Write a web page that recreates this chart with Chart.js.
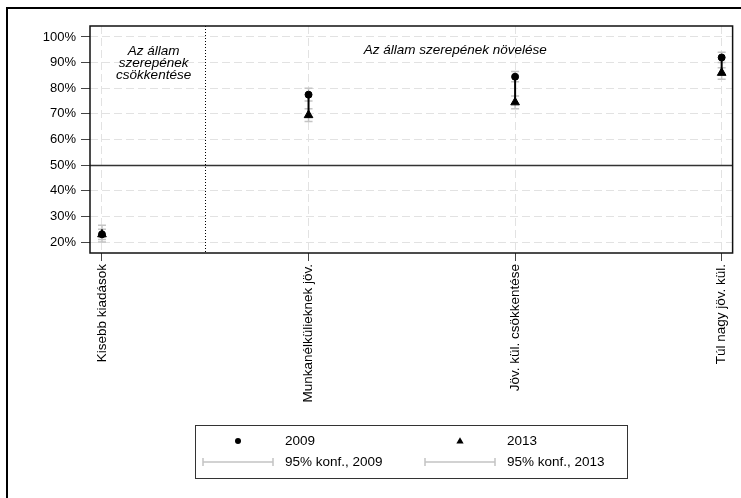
<!DOCTYPE html>
<html><head><meta charset="utf-8">
<script src="https://cdn.jsdelivr.net/npm/chart.js@4.4.1/dist/chart.umd.min.js"></script>
<style>html,body{margin:0;padding:0;background:#fff;} canvas{display:block;}</style>
</head><body>
<canvas id="c" width="741" height="498"></canvas>
<script>
const categories = ['Kisebb kiadások', 'Munkanélkülieknek jöv.', 'Jöv. kül. csökkentése', 'Túl nagy jöv. kül.'];
const values2009 = [23, 77.5, 84.5, 92];
const values2013 = [23, 69.5, 74.5, 86];
const ciLow2009  = [21, 75, 82.5, 90];
const ciHigh2009 = [25, 80, 86.5, 94];
const ciLow2013  = [20, 67, 72, 83.5];
const ciHigh2013 = [26.5, 72, 77, 88];
const yTicks = [20, 30, 40, 50, 60, 70, 80, 90, 100];
const seriesNames = ['2009', '2013'];
const ciNames = ['95% konf., 2009', '95% konf., 2013'];
const groupLeft = ['Az állam', 'szerepének', 'csökkentése'];
const groupRight = ['Az állam szerepének növelése'];
const referenceLine = 50;
const dividerAt = 0.5;

const FONT = '"Liberation Sans", Arial, sans-serif';
const CI_COLOR = '#c4c4c4';

function drawTri(ctx, x, y, r) {
  ctx.beginPath();
  ctx.moveTo(x, y - r);
  ctx.lineTo(x + r * 0.866, y + r * 0.5);
  ctx.lineTo(x - r * 0.866, y + r * 0.5);
  ctx.closePath();
  ctx.fill();
}

const overlay = {
  id: 'overlay',
  beforeDatasetsDraw(chart) {
    const { ctx, chartArea: a, scales: { x, y } } = chart;
    ctx.save();
    const y50 = Math.round(y.getPixelForValue(referenceLine)) + 0.5;
    ctx.strokeStyle = '#333'; ctx.lineWidth = 1.5;
    ctx.beginPath(); ctx.moveTo(a.left, y50); ctx.lineTo(a.right, y50); ctx.stroke();
    const xd = Math.round(x.getPixelForValue(dividerAt)) + 0.5;
    ctx.strokeStyle = '#000'; ctx.lineWidth = 1; ctx.setLineDash([1, 2]);
    ctx.beginPath(); ctx.moveTo(xd, a.top); ctx.lineTo(xd, a.bottom); ctx.stroke();
    ctx.setLineDash([]);
    ctx.strokeStyle = CI_COLOR; ctx.lineWidth = 1.5;
    const ci = (i, lo, hi) => {
      const px = x.getPixelForValue(i);
      const p1 = y.getPixelForValue(lo), p2 = y.getPixelForValue(hi);
      ctx.beginPath();
      ctx.moveTo(px, p1); ctx.lineTo(px, p2);
      ctx.moveTo(px - 4, p1); ctx.lineTo(px + 4, p1);
      ctx.moveTo(px - 4, p2); ctx.lineTo(px + 4, p2);
      ctx.stroke();
    };
    categories.forEach((c, i) => { ci(i, ciLow2009[i], ciHigh2009[i]); ci(i, ciLow2013[i], ciHigh2013[i]); });
    ctx.strokeStyle = '#000'; ctx.lineWidth = 2;
    categories.forEach((c, i) => {
      const px = x.getPixelForValue(i);
      ctx.beginPath();
      ctx.moveTo(px, y.getPixelForValue(values2009[i]));
      ctx.lineTo(px, y.getPixelForValue(values2013[i]));
      ctx.stroke();
    });
    ctx.restore();
  },
  afterDraw(chart) {
    const { ctx, chartArea: a, scales: { x } } = chart;
    ctx.save();
    ctx.strokeStyle = '#111'; ctx.lineWidth = 1.5;
    ctx.strokeRect(a.left, a.top, a.right - a.left, a.bottom - a.top);
    ctx.strokeStyle = '#000'; ctx.lineWidth = 2;
    ctx.beginPath(); ctx.moveTo(7, 498); ctx.lineTo(7, 8); ctx.lineTo(741, 8); ctx.stroke();
    ctx.fillStyle = '#000';
    ctx.font = 'italic 13.5px ' + FONT;
    ctx.textAlign = 'center'; ctx.textBaseline = 'middle';
    const xl = (a.left + x.getPixelForValue(dividerAt)) / 2 + 6;
    groupLeft.forEach((t, k) => ctx.fillText(t, xl, 51.5 + k * 12));
    const xr = x.getPixelForValue(1.71);
    groupRight.forEach((t, k) => ctx.fillText(t, xr, 50.5 + k * 12));
    ctx.strokeStyle = '#333'; ctx.lineWidth = 1;
    ctx.strokeRect(195.5, 425.5, 432, 53);
    ctx.fillStyle = '#000';
    ctx.beginPath(); ctx.arc(238, 441, 3, 0, Math.PI * 2); ctx.fill();
    drawTri(ctx, 460, 441.5, 4.2);
    ctx.font = '13.5px ' + FONT; ctx.textAlign = 'left';
    ctx.fillText(seriesNames[0], 285, 441);
    ctx.fillText(seriesNames[1], 507, 441);
    ctx.fillText(ciNames[0], 285, 462);
    ctx.fillText(ciNames[1], 507, 462);
    ctx.strokeStyle = CI_COLOR; ctx.lineWidth = 1.5;
    [[203, 273], [425, 495]].forEach(([x1, x2]) => {
      ctx.beginPath();
      ctx.moveTo(x1, 462); ctx.lineTo(x2, 462);
      ctx.moveTo(x1, 458); ctx.lineTo(x1, 466);
      ctx.moveTo(x2, 458); ctx.lineTo(x2, 466);
      ctx.stroke();
    });
    ctx.restore();
  }
};

const pts = arr => arr.map((v, i) => ({ x: i, y: v }));

new Chart(document.getElementById('c'), {
  type: 'scatter',
  data: {
    datasets: [
      { label: seriesNames[0], data: pts(values2009), pointStyle: 'circle', pointRadius: 3.5,
        backgroundColor: '#000', borderColor: '#000', borderWidth: 1 },
      { label: seriesNames[1], data: pts(values2013), pointStyle: 'triangle', pointRadius: 5,
        backgroundColor: '#000', borderColor: '#000', borderWidth: 1 }
    ]
  },
  options: {
    responsive: false, animation: false, devicePixelRatio: 1, events: [],
    layout: { padding: { left: 0, right: 8, top: 26, bottom: 0 } },
    plugins: { legend: { display: false }, tooltip: { enabled: false } },
    scales: {
      x: {
        type: 'linear', min: -0.058, max: 3.053,
        afterBuildTicks: s => { s.ticks = categories.map((c, i) => ({ value: i })); },
        afterFit: s => { s.height = 245; },
        grid: { color: '#e2e2e2', lineWidth: 1, tickLength: 8, tickColor: '#444', tickBorderDash: [], tickWidth: 1 },
        border: { display: false, dash: [8, 4] },
        ticks: { autoSkip: false, minRotation: 90, maxRotation: 90, padding: 3, color: '#000',
          font: { family: FONT, size: 13.5 },
          callback: v => categories[v] }
      },
      y: {
        type: 'linear', min: 15.71, max: 104.29,
        afterBuildTicks: s => { s.ticks = yTicks.map(v => ({ value: v })); },
        afterFit: s => { s.width = 90; },
        grid: { color: '#e2e2e2', lineWidth: 1, tickLength: 9, tickColor: '#444', tickBorderDash: [], tickWidth: 1 },
        border: { display: false, dash: [8, 4] },
        ticks: { padding: 5, color: '#000', font: { family: FONT, size: 13 }, callback: v => v + '%' }
      }
    }
  },
  plugins: [overlay]
});
</script>
</body></html>
